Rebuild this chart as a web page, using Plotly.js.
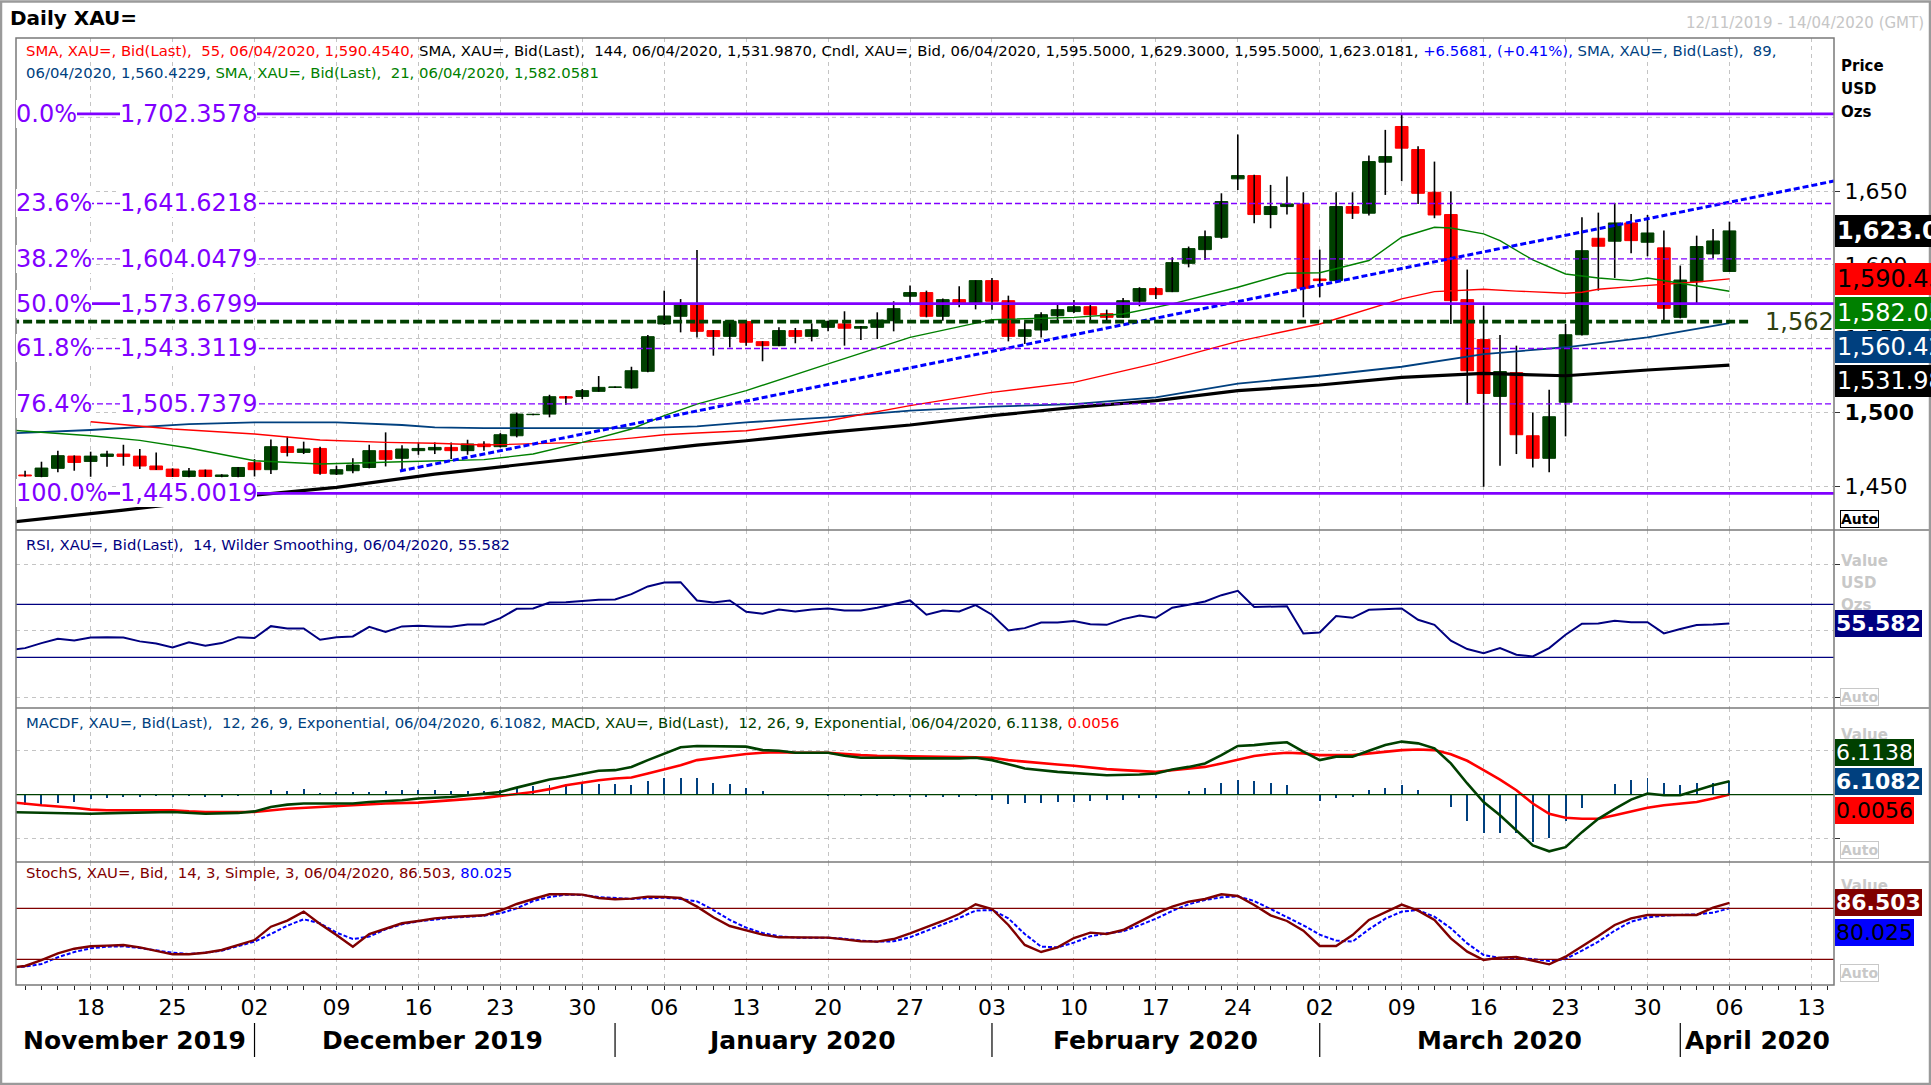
<!DOCTYPE html>
<html><head><meta charset="utf-8">
<script src="https://cdn.plot.ly/plotly-3.0.1.min.js"></script>
<style>html,body{margin:0;padding:0;background:#fff;}#chart{width:1931px;height:1085px;}</style>
</head><body><div id="chart"></div>
<script>
// ---------- DATA ----------
const dates = [].concat(
  '12 13 14 15 18 19 20 21 22 25 26 27 28 29'.split(' ').map(d => '2019-11-' + d),
  '02 03 04 05 06 09 10 11 12 13 16 17 18 19 20 23 24 25 26 27 30 31'.split(' ').map(d => '2019-12-' + d),
  '01 02 03 06 07 08 09 10 13 14 15 16 17 20 21 22 23 24 27 28 29 30 31'.split(' ').map(d => '2020-01-' + d),
  '03 04 05 06 07 10 11 12 13 14 17 18 19 20 21 24 25 26 27 28'.split(' ').map(d => '2020-02-' + d),
  '02 03 04 05 06 09 10 11 12 13 16 17 18 19 20 23 24 25 26 27 30 31'.split(' ').map(d => '2020-03-' + d),
  '01 02 03 06'.split(' ').map(d => '2020-04-' + d)
);
const open = [
 1457.5,1456.5,1462.0,1470.3,1466.7,1470.1,1471.7,1470.3,1463.6,1461.5,1456.5,1460.8,1456.5,1456.5,
 1465.8,1461.1,1476.7,1472.8,1475.5,1458.1,1460.4,1462.6,1474.0,1468.8,1474.0,1474.5,1476.2,1474.0,1478.5,1476.7,1484.1,1498.4,1498.8,1510.6,1510.8,1514.2,
 1516.9,1516.5,1527.8,1559.9,1565.1,1573.3,1555.4,1551.5,1561.5,1547.9,1545.2,1555.4,1551.5,1557.6,1559.9,1557.0,1557.6,1562.1,1578.7,1581.2,1565.1,1576.4,1574.1,
 1589.3,1575.7,1551.5,1555.8,1565.5,1568.3,1571.6,1566.9,1564.4,1575.3,1583.9,1581.8,1601.0,1610.3,1618.7,1658.3,1660.5,1634.1,1639.5,1641.3,
 1590.4,1589.3,1639.5,1635.0,1669.6,1693.8,1678.2,1649.2,1634.1,1576.4,1549.3,1510.8,1526.9,1484.1,1468.8,1506.8,1552.6,1618.0,1616.0,1628.4,1615.3,1611.5,
 1564.4,1588.6,1607.4,1595.5];
const high = [
 1460.4,1466.5,1474.0,1470.8,1473.3,1474.0,1478.0,1475.1,1472.8,1462.0,1462.2,1461.2,1458.0,1463.0,
 1468.3,1481.6,1483.5,1480.1,1476.7,1463.8,1468.8,1478.0,1486.4,1477.6,1479.6,1479.6,1479.6,1481.4,1480.3,1485.9,1499.9,1499.0,1511.9,1511.0,1515.8,1524.6,
 1517.5,1530.9,1552.4,1582.5,1576.8,1610.1,1555.8,1562.6,1562.6,1548.2,1557.6,1557.2,1560.3,1562.1,1568.5,1558.5,1567.8,1575.3,1585.9,1582.5,1577.1,1585.4,1589.5,
 1591.1,1579.1,1561.0,1567.8,1573.0,1576.2,1573.0,1569.6,1577.5,1584.8,1584.8,1605.1,1612.4,1623.2,1648.5,1688.3,1661.0,1654.2,1659.9,1649.2,
 1610.3,1649.2,1649.2,1674.1,1691.5,1701.9,1680.4,1670.0,1649.7,1596.8,1572.3,1552.4,1545.2,1499.9,1515.3,1559.9,1632.3,1635.4,1642.0,1634.5,1633.8,1623.2,
 1599.5,1619.8,1624.3,1629.3];
const low = [
 1456.3,1456.0,1459.3,1460.4,1456.3,1463.1,1463.8,1461.5,1460.8,1456.2,1456.0,1456.2,1456.0,1456.0,
 1456.5,1458.1,1470.1,1471.7,1457.7,1457.5,1458.6,1462.0,1463.3,1460.4,1471.2,1471.7,1468.3,1471.2,1474.0,1476.2,1483.0,1498.0,1496.6,1505.2,1509.0,1514.0,
 1516.5,1516.0,1527.1,1559.2,1554.2,1550.8,1538.4,1544.0,1545.2,1534.6,1544.8,1546.8,1548.1,1554.9,1545.2,1549.0,1549.7,1554.9,1573.5,1564.4,1562.1,1571.2,1569.8,
 1569.6,1548.1,1546.3,1550.8,1561.0,1567.4,1562.1,1561.0,1564.0,1571.9,1576.8,1581.5,1598.3,1603.3,1617.6,1650.8,1628.2,1624.8,1634.1,1564.4,
 1578.0,1588.8,1631.1,1633.4,1647.4,1656.7,1641.3,1631.6,1559.9,1505.2,1449.5,1463.8,1471.7,1462.6,1459.3,1483.7,1552.0,1582.5,1591.1,1607.8,1605.8,1562.1,
 1563.7,1574.1,1604.4,1595.5];
const close = [
 1457.0,1462.2,1470.6,1466.0,1470.3,1471.7,1470.1,1463.6,1461.1,1456.5,1460.2,1456.5,1457.5,1462.6,
 1461.1,1476.7,1472.8,1475.1,1458.6,1461.1,1464.2,1474.0,1468.1,1475.1,1475.5,1476.2,1474.0,1478.5,1476.7,1484.8,1498.8,1498.6,1510.6,1509.7,1514.7,1516.9,
 1517.1,1528.2,1551.3,1565.3,1573.3,1554.9,1551.5,1561.7,1547.5,1545.2,1555.4,1551.5,1556.0,1561.7,1557.0,1558.1,1562.6,1570.3,1581.2,1565.1,1576.4,1574.1,1589.3,
 1575.3,1551.5,1556.0,1566.2,1569.6,1571.6,1566.2,1564.4,1575.7,1583.9,1579.8,1601.5,1611.0,1619.1,1642.9,1660.5,1634.1,1639.5,1641.3,1584.1,
 1589.3,1639.5,1635.0,1670.0,1673.4,1679.1,1648.5,1633.8,1575.7,1528.2,1512.8,1527.6,1484.8,1468.8,1497.0,1552.6,1609.6,1612.6,1628.4,1616.4,1621.6,1570.5,
 1589.7,1612.4,1616.2,1623.0181];

// moving averages (sampled off the chart)
const sma21Dates = ['2019-11-11','2019-11-13','2019-11-18','2019-11-21','2019-11-26','2019-12-02','2019-12-06','2019-12-13','2019-12-20','2019-12-25','2019-12-30','2020-01-02','2020-01-06','2020-01-08','2020-01-13','2020-01-20','2020-01-27','2020-02-03','2020-02-10','2020-02-13','2020-02-18','2020-02-24','2020-02-27','2020-03-02','2020-03-05','2020-03-09','2020-03-11','2020-03-12','2020-03-16','2020-03-17','2020-03-19','2020-03-23','2020-03-25','2020-03-27','2020-03-30','2020-04-01','2020-04-06'];
const sma21 = [1488.0,1486.4,1484.1,1481.0,1475.8,1467.2,1465.0,1466.5,1467.9,1471.7,1479.6,1488.7,1497.7,1505.5,1514.7,1532.8,1550.8,1562.8,1564.4,1566.7,1573.5,1584.8,1594.3,1594.6,1602.9,1618.7,1625.5,1625.0,1621.0,1616.4,1603.3,1593.8,1591.1,1589.3,1591.1,1587.5,1582.0581];
const sma55Dates = ['2019-11-18','2019-11-22','2019-11-25','2019-12-02','2019-12-06','2019-12-12','2019-12-17','2019-12-20','2019-12-25','2019-12-30','2020-01-02','2020-01-06','2020-01-08','2020-01-13','2020-01-20','2020-01-27','2020-02-03','2020-02-10','2020-02-17','2020-02-24','2020-03-02','2020-03-05','2020-03-09','2020-03-11','2020-03-13','2020-03-16','2020-03-18','2020-03-20','2020-03-23','2020-03-24','2020-03-25','2020-03-27','2020-03-31','2020-04-02','2020-04-06'];
const sma55 = [1493.6,1489.8,1488.7,1485.3,1481.2,1479.6,1479.0,1477.8,1478.5,1479.6,1482.5,1484.8,1486.0,1487.5,1494.3,1504.5,1513.5,1520.3,1533.2,1548.1,1559.9,1570.1,1576.9,1581.8,1583.2,1583.4,1582.2,1581.0,1580.7,1581.4,1583.4,1585.2,1586.6,1588.4,1590.4540];
const sma89Dates = ['2019-11-11','2019-11-18','2019-11-26','2019-12-02','2019-12-09','2019-12-13','2019-12-17','2019-12-20','2019-12-30','2020-01-03','2020-01-08','2020-01-13','2020-01-20','2020-01-27','2020-02-03','2020-02-10','2020-02-17','2020-02-24','2020-03-02','2020-03-09','2020-03-16','2020-03-23','2020-03-30','2020-04-06'];
const sma89 = [1485.7,1488.0,1492.0,1493.2,1493.2,1491.4,1489.8,1489.3,1489.3,1489.5,1490.5,1493.2,1496.6,1501.1,1503.8,1505.6,1510.1,1519.5,1524.8,1530.9,1539.5,1544.1,1550.8,1560.4229];
const sma144Dates = ['2019-11-11','2019-11-20','2019-12-02','2019-12-09','2019-12-17','2019-12-30','2020-01-03','2020-01-08','2020-01-13','2020-01-20','2020-01-27','2020-02-03','2020-02-10','2020-02-17','2020-02-24','2020-03-02','2020-03-09','2020-03-16','2020-03-23','2020-03-30','2020-04-06'];
const sma144 = [1425.3,1433.7,1443.9,1449.1,1458.1,1469.4,1474.4,1477.8,1480.7,1486.4,1491.4,1497.7,1503.4,1507.9,1514.7,1518.5,1523.7,1526.4,1524.8,1528.7,1531.9870];

// drawn objects
const trendDates = ['2019-12-13 09:00','2020-04-14 21:00'];
const trendValues = [1460.2,1656.8];
const supportLevel = 1561.5, supportLabel = '1,562';
const fibPct = ['0.0%','23.6%','38.2%','50.0%','61.8%','76.4%','100.0%'];
const fibLevel = [1702.3578,1641.6218,1604.0479,1573.6799,1543.3119,1505.7379,1445.0019];

// RSI(14) - first value is the bar before the window (11/11)
const rsi = [35.5,
 36.9,40.7,44.0,42.7,45.0,45.2,45.0,42.0,40.4,37.4,41.4,38.7,40.7,45.2,
 44.5,53.5,51.8,51.8,43.2,45.2,45.7,53.0,49.2,53.3,53.8,53.3,53.0,54.8,54.8,59.6,66.6,66.9,71.4,71.6,72.6,73.4,
 73.6,77.7,83.5,86.5,86.7,72.9,71.4,72.9,64.3,62.8,66.1,64.6,66.1,66.9,65.3,65.3,67.4,70.4,72.9,62.1,65.3,64.6,69.4,
 62.1,50.3,52.0,56.3,56.3,57.3,55.0,54.5,58.8,61.6,59.8,67.4,69.6,72.1,76.9,80.2,67.9,68.4,68.6,48.0,
 48.7,61.1,59.8,65.8,66.4,66.9,58.3,54.5,42.5,36.2,33.1,36.9,31.9,30.6,36.9,47.0,55.3,55.5,57.5,56.5,56.5,48.0,
 51.3,54.3,54.8,55.582];

// MACD(12,26,9)
const macdDates = ['2019-11-11','2019-11-18','2019-11-20','2019-11-25','2019-11-27','2019-11-29','2019-12-02','2019-12-03','2019-12-04','2019-12-05','2019-12-10','2019-12-11','2019-12-13','2019-12-16','2019-12-18','2019-12-20','2019-12-23','2019-12-24','2019-12-25','2019-12-26','2019-12-27','2019-12-30','2019-12-31','2020-01-01','2020-01-02','2020-01-03','2020-01-06','2020-01-07','2020-01-08','2020-01-10','2020-01-13','2020-01-14','2020-01-15','2020-01-16','2020-01-20','2020-01-21','2020-01-22','2020-01-24','2020-01-27','2020-01-30','2020-01-31','2020-02-03','2020-02-05','2020-02-07','2020-02-10','2020-02-12','2020-02-14','2020-02-17','2020-02-18','2020-02-19','2020-02-20','2020-02-21','2020-02-24','2020-02-25','2020-02-26','2020-02-27','2020-02-28','2020-03-02','2020-03-03','2020-03-04','2020-03-05','2020-03-06','2020-03-09','2020-03-10','2020-03-11','2020-03-12','2020-03-13','2020-03-16','2020-03-17','2020-03-18','2020-03-19','2020-03-20','2020-03-23','2020-03-24','2020-03-25','2020-03-26','2020-03-27','2020-03-30','2020-03-31','2020-04-01','2020-04-02','2020-04-03','2020-04-06'];
const macd = [-8.0,-8.8,-8.4,-8.0,-8.8,-8.4,-7.7,-5.7,-4.6,-4.1,-4.1,-3.4,-2.6,-1.8,-1.1,0.5,1.2,3.2,5.1,6.9,8.1,9.4,10.9,11.2,12.7,15.8,18.9,21.7,22.3,22.3,22.0,20.4,20.1,19.2,19.2,17.8,16.9,16.9,16.6,16.6,16.9,15.8,12.0,10.4,10.0,8.9,9.2,9.7,11.5,12.7,14.3,18.1,22.3,22.7,23.5,24.0,19.7,15.8,17.4,17.4,20.1,22.7,24.3,23.5,21.2,14.3,5.1,-3.4,-9.5,-16.4,-23.3,-26.0,-24.1,-17.2,-11.1,-6.5,-2.3,0.5,-0.3,-0.3,2.0,4.3,6.1138];
const signalDates = ['2019-11-11','2019-11-13','2019-11-15','2019-11-18','2019-11-19','2019-11-25','2019-11-26','2019-11-27','2019-12-02','2019-12-03','2019-12-04','2019-12-06','2019-12-10','2019-12-12','2019-12-16','2019-12-18','2019-12-20','2019-12-23','2019-12-24','2019-12-25','2019-12-26','2019-12-27','2019-12-30','2019-12-31','2020-01-01','2020-01-02','2020-01-03','2020-01-06','2020-01-07','2020-01-08','2020-01-09','2020-01-10','2020-01-13','2020-01-14','2020-01-15','2020-01-16','2020-01-20','2020-01-21','2020-01-22','2020-01-23','2020-01-24','2020-01-28','2020-01-30','2020-01-31','2020-02-03','2020-02-04','2020-02-05','2020-02-06','2020-02-07','2020-02-10','2020-02-11','2020-02-12','2020-02-13','2020-02-14','2020-02-17','2020-02-18','2020-02-19','2020-02-20','2020-02-21','2020-02-24','2020-02-25','2020-02-26','2020-02-27','2020-02-28','2020-03-02','2020-03-04','2020-03-05','2020-03-06','2020-03-09','2020-03-10','2020-03-11','2020-03-12','2020-03-13','2020-03-16','2020-03-17','2020-03-18','2020-03-19','2020-03-20','2020-03-23','2020-03-24','2020-03-25','2020-03-26','2020-03-27','2020-03-30','2020-03-31','2020-04-01','2020-04-02','2020-04-03','2020-04-06'];
const signal = [-3.4,-4.9,-6.0,-6.9,-7.2,-7.2,-7.7,-8.0,-8.0,-7.2,-6.5,-5.7,-4.9,-4.1,-3.7,-2.6,-1.5,-0.6,0.2,1.2,2.5,4.3,5.4,6.6,7.4,7.8,9.7,11.5,13.5,15.8,16.9,17.7,18.6,19.2,19.4,19.2,19.2,18.6,18.1,17.8,17.7,17.7,17.4,17.1,16.9,15.8,15.1,14.3,13.8,13.2,12.4,11.7,11.2,10.8,10.4,11.2,11.8,12.7,14.3,16.1,17.7,18.6,19.2,18.9,18.1,18.1,18.9,19.7,20.4,20.7,20.4,18.5,15.5,11.2,6.9,2.0,-4.1,-8.8,-10.6,-11.1,-11.1,-9.5,-7.7,-6.0,-4.9,-4.1,-3.4,-1.8,0.0056];
const macdHist = [
 -4.9,-4.9,-3.8,-3.4,-1.8,-1.4,-0.9,-0.9,-0.8,-1.2,-0.8,-0.9,-1.1,-0.5,
 -0.3,2.0,1.7,2.5,0.8,1.1,1.1,1.2,1.5,2.0,2.0,2.0,1.8,1.8,1.5,2.0,2.8,4.1,4.3,4.8,5.4,4.8,
 4.8,4.3,6.3,7.8,7.4,7.8,5.5,4.8,2.8,1.5,0.5,0.1,-0.4,-0.5,-0.6,-0.7,-0.8,-0.8,-0.9,-1.1,-1.0,-0.9,-0.6,
 -2.5,-4.5,-3.8,-3.8,-3.4,-3.4,-2.9,-2.6,-2.3,-1.5,-1.5,0.5,1.5,2.8,5.1,6.9,6.3,5.5,4.6,0.3,
 -2.9,-1.5,-1.1,2.0,3.2,4.3,2.3,0.3,-5.7,-12.3,-17.7,-17.7,-17.7,-21.8,-19.8,-12.1,-6.1,0.0,4.8,6.6,7.8,5.4,
 4.3,5.1,5.1,6.1082];

// Slow stochastic (14,3,3) - first value is 11/11
const stochK = [10.0,
 12.2,19.2,27.1,32.5,35.3,36.1,36.9,34.1,29.8,25.9,25.9,27.8,31.0,36.5,
 42.7,58.4,65.5,76.1,61.6,48.6,34.9,49.8,55.7,62.4,65.1,68.2,69.8,71.0,71.8,77.3,85.1,91.0,96.5,96.5,96.1,92.2,
 90.6,91.4,93.7,93.3,92.2,82.0,69.4,59.2,53.7,49.0,45.9,45.5,45.5,45.5,43.5,41.2,40.8,43.9,50.6,57.6,65.1,73.3,84.7,
 79.2,60.4,36.9,28.6,34.1,45.1,51.4,49.8,54.5,64.3,74.1,82.0,87.8,91.0,96.5,94.5,83.9,71.8,65.1,53.7,
 35.7,35.7,48.6,66.3,74.9,84.3,77.3,66.3,44.7,29.0,19.2,22.0,22.7,18.4,14.1,23.1,34.9,47.5,60.4,68.2,72.2,72.2,
 72.2,72.2,80.8,86.503];
const stochD = [10.5,
 11.4,14.5,22.4,28.6,32.9,34.9,35.3,33.3,30.2,27.8,26.3,27.8,30.2,35.7,
 40.8,49.8,59.6,67.1,62.4,51.4,43.9,46.7,55.3,61.2,64.7,66.7,69.0,70.2,71.4,74.1,80.0,88.6,93.3,96.1,95.7,93.3,
 91.8,91.0,91.8,92.5,91.0,88.2,78.0,66.3,57.3,51.0,47.1,45.5,45.5,45.5,44.3,42.0,40.8,41.2,45.9,53.3,61.2,68.6,77.3,
 78.0,68.2,49.8,34.9,34.1,39.6,47.1,50.6,52.9,60.0,67.8,76.9,84.7,89.8,92.9,94.1,88.6,79.2,69.4,60.0,
 49.0,42.0,40.8,55.3,67.8,76.1,78.0,70.2,56.5,38.8,25.1,21.6,21.2,20.4,18.0,20.4,30.2,40.8,53.7,64.3,69.4,71.4,
 72.2,72.9,74.9,80.025];

// axis labels
const tickDates = ['2019-11-18','2019-11-25','2019-12-02','2019-12-09','2019-12-16','2019-12-23','2019-12-30','2020-01-06','2020-01-13','2020-01-20','2020-01-27','2020-02-03','2020-02-10','2020-02-17','2020-02-24','2020-03-02','2020-03-09','2020-03-16','2020-03-23','2020-03-30','2020-04-06','2020-04-13'];
const monthLabels = ['November 2019','December 2019','January 2020','February 2020','March 2020','April 2020'];
const monthStarts = ['2019-12-02','2020-01-01','2020-02-03','2020-03-02','2020-04-01'];
const priceTicks = [1450,1500,1550,1600,1650];
const priceTickText = ['1,450','<b>1,500</b>','1,550','1,600','1,650'];

// ---------- DRAWING ----------
const noon = d => d + ' 12:00';
const xs = dates.map(noon);
const indX = ['2019-11-11'].concat(dates).map(noon);
const FONT = 'DejaVu Sans';
const HFS = 14.85; // header font size
const X = px => (px - 16) / 1818;      // page px -> paper x
const Y = py => (985 - py) / 947;      // page px -> paper y

const traces = [
  {type:'ohlc', x:xs, open:open, high:high, low:low, close:close, xaxis:'x', yaxis:'y',
   tickwidth:0, increasing:{line:{color:'#000', width:1.6}}, decreasing:{line:{color:'#000', width:1.6}}, hoverinfo:'skip'},
  {type:'candlestick', x:xs, open:open, close:close,
   high:open.map((o,i)=>Math.max(o,close[i])), low:open.map((o,i)=>Math.min(o,close[i])),
   xaxis:'x', yaxis:'y', whiskerwidth:0,
   increasing:{line:{color:'#004000', width:1}, fillcolor:'#004000'},
   decreasing:{line:{color:'#ff0000', width:1}, fillcolor:'#ff0000'}, hoverinfo:'skip'},
  {type:'scatter', mode:'lines', x:sma144Dates.map(noon), y:sma144, line:{color:'#000', width:3.2}, yaxis:'y'},
  {type:'scatter', mode:'lines', x:sma89Dates.map(noon), y:sma89, line:{color:'#00407f', width:1.8}, yaxis:'y'},
  {type:'scatter', mode:'lines', x:sma55Dates.map(noon), y:sma55, line:{color:'#ff0000', width:1.4}, yaxis:'y'},
  {type:'scatter', mode:'lines', x:sma21Dates.map(noon), y:sma21, line:{color:'#008000', width:1.4}, yaxis:'y'},
  {type:'scatter', mode:'lines', x:trendDates, y:trendValues, line:{color:'#0000ff', width:3, dash:'6px,3px'}, yaxis:'y'},
  {type:'scatter', mode:'lines', x:indX, y:rsi, line:{color:'#000080', width:2}, yaxis:'y2'},
  {type:'bar', x:xs, y:macdHist, width:0.12*86400000, marker:{color:'#00407f', line:{width:0}}, yaxis:'y3'},
  {type:'scatter', mode:'lines', x:signalDates.map(noon), y:signal, line:{color:'#ff0000', width:2.6}, yaxis:'y3'},
  {type:'scatter', mode:'lines', x:macdDates.map(noon), y:macd, line:{color:'#004000', width:2.6}, yaxis:'y3'},
  {type:'scatter', mode:'lines', x:indX, y:stochD, line:{color:'#0000ff', width:2, dash:'4px,2px'}, yaxis:'y4'},
  {type:'scatter', mode:'lines', x:indX, y:stochK, line:{color:'#800000', width:2.4}, yaxis:'y4'}
];

const gridDash = '4px,4px';
const shapes = [];
shapes.push({type:'line', xref:'paper', x0:0, x1:1, yref:'y', y0:1700, y1:1700, line:{color:'#c4c4c4', width:1, dash:gridDash}, layer:'below'});
fibPct.forEach((p,i)=>{
  const solid = (p === '0.0%' || p === '50.0%' || p === '100.0%');
  shapes.push({type:'line', xref:'paper', x0:0, x1:1, yref:'y', y0:fibLevel[i], y1:fibLevel[i],
    line:{color:'#8000ff', width: solid ? 2.6 : 1.4, dash: solid ? 'solid' : '6px,3px'}});
});
shapes.push({type:'line', xref:'x', x0:'2019-11-10', x1:'2020-04-07 19:30', yref:'y', y0:supportLevel, y1:supportLevel,
  line:{color:'#004000', width:3.6, dash:'9px,4px'}});
[70,30].forEach(v=>shapes.push({type:'line', xref:'paper', x0:0, x1:1, yref:'y2', y0:v, y1:v, line:{color:'#000080', width:1.2}}));
[80,20].forEach(v=>shapes.push({type:'line', xref:'paper', x0:0, x1:1, yref:'y4', y0:v, y1:v, line:{color:'#800000', width:1.2}}));
shapes.push({type:'line', xref:'paper', x0:0, x1:1, yref:'y3', y0:0, y1:0, line:{color:'#004000', width:1.4}});
shapes.push({type:'rect', xref:'paper', yref:'paper', x0:0, x1:1, y0:0, y1:1, line:{color:'#7a7a7a', width:1.5}});
[530,708,862].forEach(py=>shapes.push({type:'line', xref:'paper', yref:'paper', x0:0, x1:X(1931), y0:Y(py), y1:Y(py), line:{color:'#7a7a7a', width:1.5}}));
monthStarts.forEach(d=>shapes.push({type:'line', xref:'x', yref:'paper', x0:noon(d), x1:noon(d), y0:Y(1023), y1:Y(1057), line:{color:'#000', width:1.2}}));
shapes.push({type:'rect', xref:'paper', yref:'paper', x0:X(1), x1:X(1930), y0:Y(1084), y1:Y(1.5), line:{color:'#9a9a9a', width:2.5}});

const A = (o) => Object.assign({showarrow:false, font:{family:FONT, size:HFS, color:'#000'}}, o);
const annotations = [];
annotations.push(A({xref:'paper', yref:'paper', x:X(8), y:Y(18), xanchor:'left', yanchor:'middle', text:'<b>Daily XAU=</b>', font:{family:FONT, size:20, color:'#000'}}));
annotations.push(A({xref:'paper', yref:'paper', x:X(1926), y:Y(23), xanchor:'right', yanchor:'middle', text:'12/11/2019 - 14/04/2020 (GMT)', font:{family:FONT, size:15, color:'#c6c6c6'}}));
const sp = (c,t) => '<span style="color:' + c + '">' + t + '</span>';
annotations.push(A({xref:'paper', yref:'paper', x:X(24), y:Y(50.7), xanchor:'left', yanchor:'middle',
  text: sp('#ff0000','SMA, XAU=, Bid(Last),&nbsp; 55, 06/04/2020, 1,590.4540,') + ' ' +
        sp('#000000','SMA, XAU=, Bid(Last),&nbsp; 144, 06/04/2020, 1,531.9870, Cndl, XAU=, Bid, 06/04/2020, 1,595.5000, 1,629.3000, 1,595.5000, 1,623.0181,') + ' ' +
        sp('#0000ff','+6.5681, (+0.41%),') + ' ' + sp('#003f7f','SMA, XAU=, Bid(Last),&nbsp; 89,')}));
annotations.push(A({xref:'paper', yref:'paper', x:X(24), y:Y(72.7), xanchor:'left', yanchor:'middle',
  text: sp('#003f7f','06/04/2020, 1,560.4229,') + ' ' + sp('#008000','SMA, XAU=, Bid(Last),&nbsp; 21, 06/04/2020, 1,582.0581')}));
annotations.push(A({xref:'paper', yref:'paper', x:X(24), y:Y(545), xanchor:'left', yanchor:'middle',
  text: sp('#000080','RSI, XAU=, Bid(Last),&nbsp; 14, Wilder Smoothing, 06/04/2020, 55.582')}));
annotations.push(A({xref:'paper', yref:'paper', x:X(24), y:Y(723), xanchor:'left', yanchor:'middle',
  text: sp('#003f7f','MACDF, XAU=, Bid(Last),&nbsp; 12, 26, 9, Exponential, 06/04/2020, 6.1082,') + ' ' +
        sp('#004000','MACD, XAU=, Bid(Last),&nbsp; 12, 26, 9, Exponential, 06/04/2020, 6.1138,') + ' ' + sp('#ff0000','0.0056')}));
annotations.push(A({xref:'paper', yref:'paper', x:X(24), y:Y(873), xanchor:'left', yanchor:'middle',
  text: sp('#800000','StochS, XAU=, Bid,&nbsp; 14, 3, Simple, 3, 06/04/2020, 86.503,') + ' ' + sp('#0000ff','80.025')}));
const fmt = v => v.toLocaleString('en-US', {minimumFractionDigits:4, maximumFractionDigits:4});
fibPct.forEach((p,i)=>{
  annotations.push(A({xref:'paper', yref:'y', x:0, y:fibLevel[i], xanchor:'left', yanchor:'middle', text:p,
    bgcolor:'#fff', borderpad:0, borderwidth:0, font:{family:FONT, size:24, color:'#8000ff'}}));
  annotations.push(A({xref:'paper', yref:'y', x:X(119.5), y:fibLevel[i], xanchor:'left', yanchor:'middle', text:fmt(fibLevel[i]),
    bgcolor:'#fff', borderpad:0, borderwidth:0, font:{family:FONT, size:24, color:'#8000ff'}}));
});
annotations.push(A({xref:'paper', yref:'y', x:X(1763), y:supportLevel, xanchor:'left', yanchor:'middle', text:supportLabel,
  font:{family:FONT, size:24, color:'#2f4010'}}));
const monthCenters = [134.5, 432.8, 802, 1155, 1499.5, 1757];
monthLabels.forEach((m,i)=>annotations.push(A({xref:'paper', yref:'paper', x:X(monthCenters[i]), y:Y(1040), xanchor:'center', yanchor:'middle',
  text:'<b>' + m + '</b>', font:{family:FONT, size:25, color:'#000'}})));
[['Price',66],['USD',89],['Ozs',112]].forEach(t=>annotations.push(A({xref:'paper', yref:'paper', x:1, xshift:5, y:Y(t[1]), xanchor:'left', yanchor:'middle',
  text:'<b>' + t[0] + '</b>', font:{family:FONT, size:15, color:'#000'}})));
[['Value',560.7],['USD',582.7],['Ozs',605],['Value',735],['Value',886]].forEach(t=>annotations.push(A({xref:'paper', yref:'paper', x:1, xshift:5, y:Y(t[1]), xanchor:'left', yanchor:'middle',
  text:'<b>' + t[0] + '</b>', font:{family:FONT, size:15, color:'#c8c8c8'}})));
annotations.push(A({xref:'paper', yref:'paper', x:1, xshift:6, y:Y(519), xanchor:'left', yanchor:'middle', text:'<b>Auto</b>',
  bordercolor:'#000', borderwidth:1, borderpad:0, font:{family:FONT, size:14, color:'#000'}}));
[697,850,973].forEach(py=>annotations.push(A({xref:'paper', yref:'paper', x:1, xshift:6, y:Y(py), xanchor:'left', yanchor:'middle', text:'<b>Auto</b>',
  bordercolor:'#c8c8c8', borderwidth:1, borderpad:0, font:{family:FONT, size:14, color:'#c8c8c8'}})));
const box = (yref, v, txt, bg, fg, bold, size, shift) => A({xref:'paper', yref:yref, x:1, xshift:1, y:v, yshift:shift, xanchor:'left', yanchor:'middle',
  text: bold ? '<b>' + txt + '</b>' : txt, bgcolor:bg, borderpad:size > 23 ? 2 : 1, borderwidth:0, font:{family:FONT, size:size, color:fg}});
annotations.push(box('y', close[close.length-1], '1,623.0181', '#000000', '#ffffff', true, 24, 0));
annotations.push(box('y', sma55[sma55.length-1], '1,590.4540', '#ff0000', '#000000', false, 24, 0));
annotations.push(box('y', sma21[sma21.length-1], '1,582.0581', '#008000', '#ffffff', false, 24, -22.2));
annotations.push(box('y', sma89[sma89.length-1], '1,560.4229', '#00407f', '#ffffff', false, 24, -23.7));
annotations.push(box('y', sma144[sma144.length-1], '1,531.9870', '#000000', '#ffffff', false, 24, -15.8));
annotations.push(box('y2', rsi[rsi.length-1], '55.582', '#000080', '#ffffff', true, 22, 0));
annotations.push(box('y3', macd[macd.length-1], '6.1138', '#004000', '#ffffff', false, 22, 28.5));
annotations.push(box('y3', macdHist[macdHist.length-1], '6.1082', '#00407f', '#ffffff', true, 22, 0));
annotations.push(box('y3', signal[signal.length-1], '0.0056', '#ff0000', '#000000', false, 22, -15.7));
annotations.push(box('y4', stochK[stochK.length-1], '86.503', '#800000', '#ffffff', true, 22, 0));
annotations.push(box('y4', stochD[stochD.length-1], '80.025', '#0000ff', '#000000', false, 22, -23.9));

const yCommon = {side:'right', anchor:'x', zeroline:false, showline:false, fixedrange:true,
  gridcolor:'#c4c4c4', griddash:gridDash, gridwidth:1, ticks:'outside', ticklen:5, tickcolor:'#333',
  tickfont:{family:FONT, size:22, color:'#000'}};
const layout = {
  width:1931, height:1085, margin:{l:16, r:97, t:38, b:100, pad:0},
  paper_bgcolor:'#fff', plot_bgcolor:'#fff', showlegend:false, hovermode:false,
  font:{family:FONT, size:14, color:'#000'},
  boxgap:0.225, boxgroupgap:0, bargap:0,
  xaxis:{type:'date', rangebreaks:[{bounds:['sat','mon']}], range:['2019-11-11 22:42','2020-04-14 21:07'],
    anchor:'y4', domain:[0,1], rangeslider:{visible:false}, fixedrange:true,
    tickmode:'array', tickvals:tickDates.map(noon), ticktext:tickDates.map(d=>d.slice(8)),
    ticks:'outside', ticklen:3, tickcolor:'rgba(0,0,0,0)', ticklabelstandoff:0,
    minor:{ticks:'outside', ticklen:4, tickcolor:'#222', tickwidth:1, dtick:86400000, tick0:'2019-11-11 12:00', showgrid:false},
    showgrid:true, gridcolor:'#c4c4c4', griddash:gridDash, gridwidth:1, showline:false, zeroline:false,
    tickfont:{family:FONT, size:22, color:'#000'}},
  yaxis:Object.assign({}, yCommon, {domain:[Y(530),1], range:[1420.2,1753.8], tickmode:'array', tickvals:priceTicks, ticktext:priceTickText, showgrid:true}),
  yaxis2:Object.assign({}, yCommon, {domain:[Y(708),Y(530)], range:[-8.3,126.1], tickmode:'array', tickvals:[0,50,100], ticktext:['','',''], showgrid:true}),
  yaxis3:Object.assign({}, yCommon, {domain:[Y(862),Y(708)], range:[-30.9,39.7], tickmode:'array', tickvals:[-20,20], ticktext:['',''], showgrid:true}),
  yaxis4:Object.assign({}, yCommon, {domain:[0,Y(862)], range:[-10.2,134.5], tickmode:'array', tickvals:[], showgrid:false, ticks:''}),
  shapes:shapes, annotations:annotations
};
Plotly.newPlot('chart', traces, layout, {displayModeBar:false, staticPlot:true});
</script></body></html>
